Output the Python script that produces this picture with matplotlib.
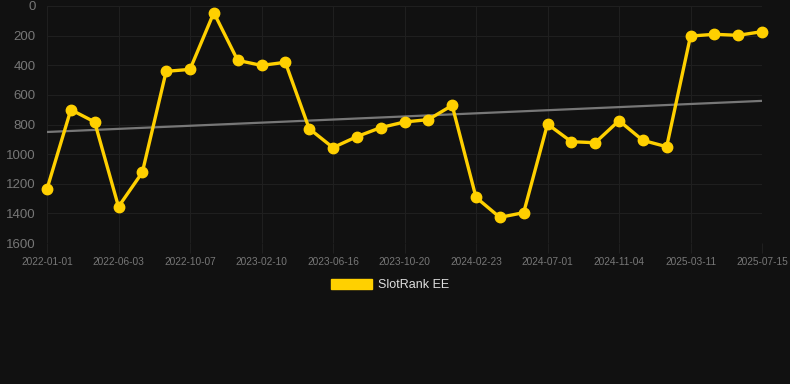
import numpy as np
import matplotlib
matplotlib.use("Agg")
import matplotlib.pyplot as plt
from matplotlib.patches import Patch

plt.rcParams['font.family'] = ['Liberation Sans', 'DejaVu Sans']

# rank values, one point every ~43 days
ranks = [1235, 700, 783, 1355, 1123, 441, 428, 45, 367, 401, 380,
         828, 956, 882, 821, 783, 767, 671, 1292, 1427, 1395,
         797, 916, 923, 774, 907, 950, 203, 191, 198, 173]
tick_labels = ['2022-01-01', '2022-06-03', '2022-10-07', '2023-02-10',
               '2023-06-16', '2023-10-20', '2024-02-23', '2024-07-01',
               '2024-11-04', '2025-03-11', '2025-07-15']
series_name = 'SlotRank EE'

bg = '#111111'
gold = '#FFD000'
grid_c = '#1f1f1f'

fig = plt.figure(figsize=(7.9, 3.84), dpi=100, facecolor=bg)
ax = fig.add_axes([47 / 790, 1 - 243 / 384, 715 / 790, 237 / 384], facecolor=bg)

xs = np.arange(len(ranks))
# linear trend through the series
k, b = np.polyfit(xs, ranks, 1)
ax.plot(xs[[0, -1]], k * xs[[0, -1]] + b, color='#777777', lw=1.6, zorder=2)

ax.plot(xs, ranks, color=gold, lw=2.4, marker='o', ms=7.5,
        clip_on=False, zorder=3)

ax.set_xlim(0, len(ranks) - 1)
ax.set_ylim(1600, 0)
ax.set_yticks(range(0, 1601, 200))
ax.set_xticks(xs[::3])
ax.set_xticklabels(tick_labels)

ax.grid(True, color=grid_c, lw=0.8)
ax.set_axisbelow(True)
for s in ax.spines.values():
    s.set_visible(False)
ax.tick_params(axis='y', length=0, pad=8, labelsize=9.5, labelcolor='#777777')
ax.tick_params(axis='x', length=7, color=grid_c, pad=3, labelsize=7.3,
               labelcolor='#777777')

leg = fig.legend(handles=[Patch(facecolor=gold, edgecolor=gold, label=series_name)],
                 loc='center', bbox_to_anchor=(390 / 790, 1 - 285 / 384),
                 frameon=False, fontsize=9, handlelength=3.3, handleheight=0.9,
                 handletextpad=0.5)
for t in leg.get_texts():
    t.set_color('#dddddd')

fig.savefig('out.png', dpi=100, facecolor=bg)
